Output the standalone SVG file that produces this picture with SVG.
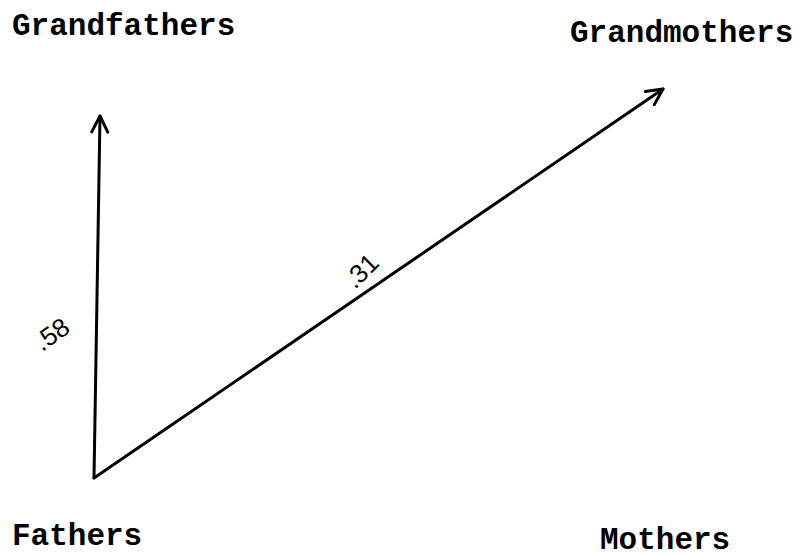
<svg xmlns="http://www.w3.org/2000/svg" width="806" height="557" viewBox="0 0 806 557">
<style>
.lbl{font-family:"Liberation Mono","Courier New",monospace;font-weight:bold;font-size:31px;fill:#000}
.coef{font-family:"Liberation Sans",Arial,sans-serif;font-size:26px;fill:#000}
.edge{stroke:#000;stroke-width:3;fill:none;stroke-linecap:round}
</style>
<defs>
<marker id="arr" viewBox="0 0 20 20" refX="18" refY="10" markerWidth="20" markerHeight="20" markerUnits="userSpaceOnUse" orient="auto">
<path d="M2,2 L18,10 L2,18" fill="none" stroke="#000" stroke-width="3" stroke-linecap="round" stroke-linejoin="round"/>
</marker>
</defs>
<rect width="806" height="557" fill="#fff"/>
<g id="grandfathers"><text class="lbl" x="12" y="35">Grandfathers</text></g>
<g id="grandmothers"><text class="lbl" x="570" y="42">Grandmothers</text></g>
<g id="fathers"><text class="lbl" x="12" y="545">Fathers</text></g>
<g id="mothers"><text class="lbl" x="600" y="549">Mothers</text></g>
<g id="connectors">
<line class="edge" x1="94" y1="478" x2="100" y2="116" marker-end="url(#arr)"/>
<line class="edge" x1="94" y1="478" x2="663" y2="89" marker-end="url(#arr)"/>
<text class="coef" transform="translate(42,352) rotate(-35)">.58</text>
<text class="coef" transform="translate(355,290) rotate(-45)">.31</text>
</g>
</svg>
